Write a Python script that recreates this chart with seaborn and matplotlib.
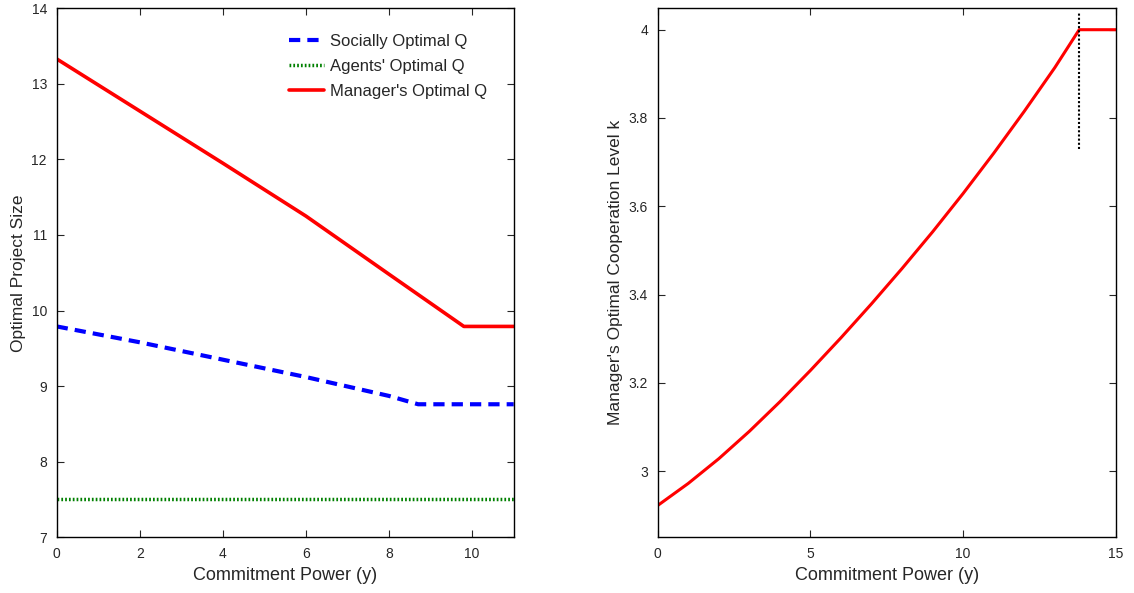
import numpy as np
import pandas as pd
import matplotlib
matplotlib.use("Agg")
import matplotlib.pyplot as plt
import seaborn as sns

# left panel: optimal project size vs commitment power
y_social = [0, 2, 4, 6, 8, 8.7, 11]
q_social = [9.79, 9.58, 9.35, 9.12, 8.87, 8.76, 8.76]

y_agents = [0, 11]
q_agents = [7.5, 7.5]

y_manager = [0, 2, 4, 6, 8, 9.8, 11]
q_manager = [13.33, 12.64, 11.95, 11.25, 10.48, 9.79, 9.79]

# right panel: manager's cooperation level
y_k = [0, 1, 2, 3, 4, 5, 6, 7, 8, 9, 10, 11, 12, 13, 13.8, 15]
k_vals = [2.922, 2.972, 3.028, 3.090, 3.157, 3.228, 3.302, 3.379, 3.459, 3.542,
          3.629, 3.720, 3.815, 3.914, 4.0, 4.0]
kink_y = 13.8

sns.set_style("ticks")
plt.rcParams['font.family'] = ['Liberation Sans', 'DejaVu Sans']

fig = plt.figure(figsize=(11.34, 5.93), dpi=100)
ax1 = fig.add_axes([0.050, 0.094, 0.403, 0.892])
ax2 = fig.add_axes([0.580, 0.094, 0.404, 0.892])

sns.lineplot(x=y_social, y=q_social, ax=ax1, color='blue', lw=3,
             linestyle=(0, (2.7, 1.7)), label='Socially Optimal Q')
sns.lineplot(x=y_agents, y=q_agents, ax=ax1, color='#008000', lw=2.5,
             linestyle=(0, (0.5, 0.6)), label="Agents' Optimal Q")
sns.lineplot(x=y_manager, y=q_manager, ax=ax1, color='red', lw=2.6,
             label="Manager's Optimal Q")

ax1.set_xlim(0, 11)
ax1.set_ylim(7, 14)
ax1.set_xticks([0, 2, 4, 6, 8, 10])
ax1.set_yticks(range(7, 15))
ax1.set_xlabel('Commitment Power (y)', fontsize=13)
ax1.set_ylabel('Optimal Project Size', fontsize=12.5)
leg = ax1.legend(loc='upper right', bbox_to_anchor=(0.975, 0.98), frameon=False,
                 fontsize=12, handlelength=2.1, handletextpad=0.35, labelspacing=0.6)

sns.lineplot(x=y_k, y=k_vals, ax=ax2, color='red', lw=2.2)
ax2.plot([kink_y, kink_y], [3.729, 4.04], color='black', lw=1.5, linestyle=(0, (1, 1)))
ax2.set_xlim(0, 15)
ax2.set_ylim(2.85, 4.0485)
ax2.set_xticks([0, 5, 10, 15])
ax2.set_yticks([3, 3.2, 3.4, 3.6, 3.8, 4])
ax2.set_yticklabels(['3', '3.2', '3.4', '3.6', '3.8', '4'])
ax2.set_xlabel('Commitment Power (y)', fontsize=13)
ax2.set_ylabel("Manager's Optimal Cooperation Level k", fontsize=12.5)

for ax in (ax1, ax2):
    ax.tick_params(direction='in', top=True, right=True, length=5, width=0.8,
                   labelsize=10, pad=7)
    for s in ax.spines.values():
        s.set_visible(True)
        s.set_linewidth(1.0)
        s.set_color('black')

fig.savefig('out.png', dpi=100)
